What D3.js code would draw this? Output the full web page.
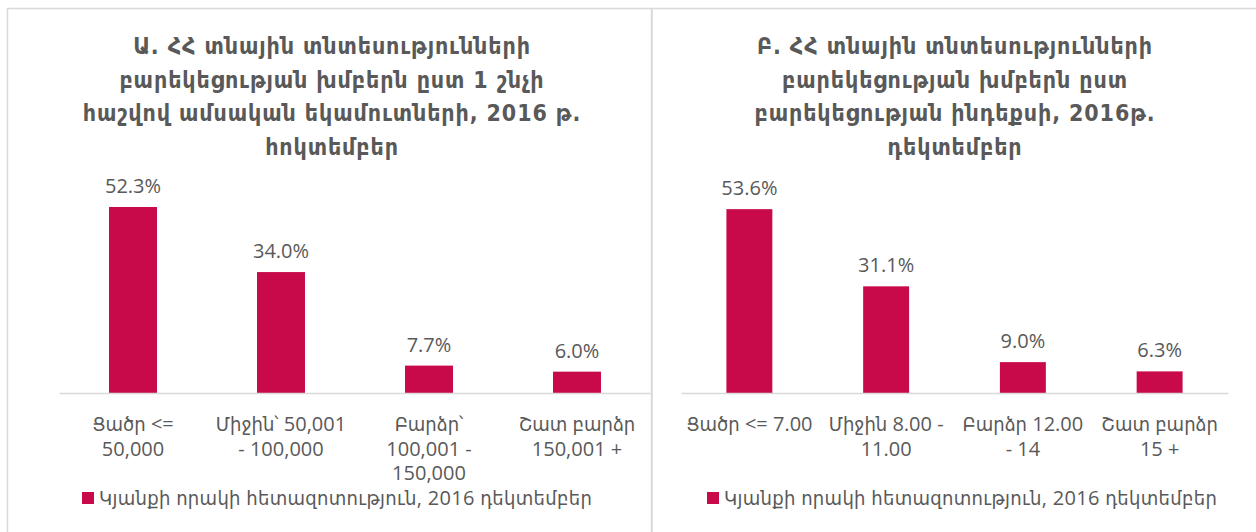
<!DOCTYPE html>
<html>
<head>
<meta charset="utf-8">
<script src="https://cdn.jsdelivr.net/npm/d3@7"></script>
<style>
  html, body { margin: 0; padding: 0; background: #fff; }
  svg { display: block; }
  text { font-family: "Open Sans", "DejaVu Sans Condensed", "DejaVu Sans", sans-serif; fill: #595959; }
  .title { font-family: "DejaVu Sans Condensed", "DejaVu Sans", sans-serif; }
</style>
</head>
<body>
<div id="chart"></div>
<script>
// chart A: groups by monthly income per capita
var titleA = ["Ա. ՀՀ տնային տնտեսությունների", "բարեկեցության խմբերն ըստ 1 շնչի", "հաշվով ամսական եկամուտների, 2016 թ.", "հոկտեմբեր"];
var categoriesA = ["Ցածր <=\n50,000", "Միջին՝ 50,001\n- 100,000", "Բարձր՝\n100,001 -\n150,000", "Շատ բարձր\n150,001 +"];
var valuesA = [52.3, 34.0, 7.7, 6.0];

// chart B: groups by wellbeing index
var titleB = ["Բ. ՀՀ տնային տնտեսությունների", "բարեկեցության խմբերն ըստ", "բարեկեցության ինդեքսի, 2016թ.", "դեկտեմբեր"];
var categoriesB = ["Ցածր <= 7.00", "Միջին 8.00 -\n11.00", "Բարձր 12.00\n- 14", "Շատ բարձր\n15 +"];
var valuesB = [53.6, 31.1, 9.0, 6.3];

var seriesName = "Կյանքի որակի հետազոտություն, 2016 դեկտեմբեր";

var width = 1256;
var height = 532;
var barColor = "#C80A4B";
var gridColor = "#D9D9D9";

var svg = d3.select('#chart')
  .append('svg')
  .attr('width', width)
  .attr('height', height);

// panel frames
svg.append('rect')
  .attr('x', 7.5).attr('y', 8.5)
  .attr('width', 644).attr('height', 540)
  .attr('fill', 'none')
  .attr('stroke', gridColor)
  .attr('stroke-width', 1.5);
svg.append('rect')
  .attr('x', 652).attr('y', 8.5)
  .attr('width', 640).attr('height', 540)
  .attr('fill', 'none')
  .attr('stroke', gridColor)
  .attr('stroke-width', 1.5);

function drawPanel(opts) {
  var g = svg.append('g');

  var x = d3.scaleBand()
    .domain(opts.categories)
    .range([opts.left, opts.right])
    .paddingInner(opts.pad)
    .paddingOuter(opts.pad / 2);

  var y = d3.scaleLinear()
    .domain([0, 60])
    .range([opts.base, opts.top]);

  // title
  g.append('text')
    .attr('class', 'title')
    .attr('text-anchor', 'middle')
    .attr('font-weight', 'bold')
    .attr('font-size', '23px')
    .attr('letter-spacing', '0.9px')
    .selectAll('tspan')
    .data(opts.title)
    .enter()
    .append('tspan')
    .attr('x', opts.titleX)
    .attr('y', function(d, i) { return 54 + i * 33.7; })
    .text(function(d) { return d; });

  // bars
  g.selectAll('rect.bar')
    .data(opts.values)
    .enter()
    .append('rect')
    .attr('class', 'bar')
    .attr('x', function(d, i) { return x(opts.categories[i]); })
    .attr('y', function(d) { return y(d); })
    .attr('width', x.bandwidth())
    .attr('height', function(d) { return y(0) - y(d); })
    .attr('fill', barColor);

  // value labels
  g.selectAll('text.value')
    .data(opts.values)
    .enter()
    .append('text')
    .attr('class', 'value')
    .attr('text-anchor', 'middle')
    .attr('font-size', '20px')
    .attr('x', function(d, i) { return x(opts.categories[i]) + x.bandwidth() / 2; })
    .attr('y', function(d) { return y(d) - 14; })
    .text(function(d) { return d.toFixed(1) + '%'; });

  // x axis
  var axis = d3.axisBottom(x).tickSize(0).tickPadding(0);
  var ax = g.append('g')
    .attr('transform', 'translate(0,' + opts.base + ')')
    .call(axis);
  ax.select('.domain').attr('stroke', gridColor).attr('stroke-width', 1.5);
  ax.selectAll('.tick text').remove();
  ax.selectAll('.tick')
    .append('text')
    .attr('text-anchor', 'middle')
    .attr('font-size', '20px')
    .style('fill', '#595959')
    .selectAll('tspan')
    .data(function(d) { return d.split('\n'); })
    .enter()
    .append('tspan')
    .attr('x', 0)
    .attr('y', function(d, i) { return 38 + i * 24.5; })
    .text(function(d) { return d; });

  // legend
  var lg = g.append('g').attr('transform', 'translate(' + opts.legendX + ',498)');
  lg.append('rect')
    .attr('x', 0).attr('y', -6)
    .attr('width', 12).attr('height', 12)
    .attr('fill', barColor);
  lg.append('text')
    .attr('x', 17)
    .attr('y', 7)
    .attr('font-size', '20px')
    .attr('letter-spacing', '0.3px')
    .text(seriesName);
}

drawPanel({
  title: titleA, categories: categoriesA, values: valuesA,
  left: 59, right: 651, pad: 0.676, base: 393, top: 179.6,
  titleX: 332, legendX: 82
});

drawPanel({
  title: titleB, categories: categoriesB, values: valuesB,
  left: 681, right: 1228, pad: 0.664, base: 393, top: 187.2,
  titleX: 955, legendX: 707
});
</script>
</body>
</html>
